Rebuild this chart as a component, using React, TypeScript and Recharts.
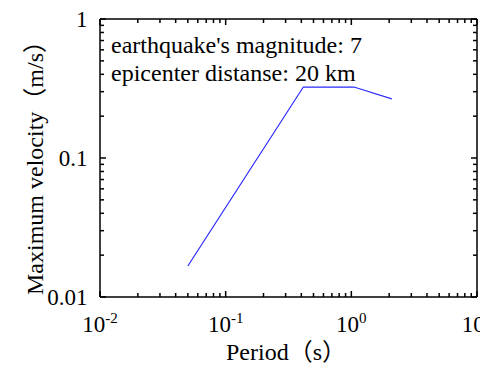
import React from 'react';
import { LineChart, Line, XAxis, YAxis } from 'recharts';

// ---- data ----
const periods = [0.05, 0.415, 1.05, 2.1];
const velocities = [0.0167, 0.324, 0.324, 0.266];

const xTicks = [
  0.01, 0.02, 0.03, 0.04, 0.05, 0.06, 0.07, 0.08, 0.09,
  0.1, 0.2, 0.3, 0.4, 0.5, 0.6, 0.7, 0.8, 0.9,
  1, 2, 3, 4, 5, 6, 7, 8, 9, 10,
];
const xMajor = [0.01, 0.1, 1, 10];
const xMajorExp = ['-2', '-1', '0', '1'];

const yTicks = [
  0.01, 0.02, 0.03, 0.04, 0.05, 0.06, 0.07, 0.08, 0.09,
  0.1, 0.2, 0.3, 0.4, 0.5, 0.6, 0.7, 0.8, 0.9, 1,
];
const yMajor = [0.01, 0.1, 1];
const yMajorLabels = ['0.01', '0.1', '1'];

const annotations = ["earthquake's magnitude: 7", 'epicenter distanse: 20 km'];
const xTitle = 'Period（s）';
const yTitle = 'Maximum velocity（m/s）';

const data = periods.map((p, i) => ({ p, v: velocities[i] }));

const FONT_STYLE: React.CSSProperties = { fontFamily: "'Liberation Serif', 'Noto Sans CJK SC', serif" };
const MAJ = 6;
const MIN = 4;

const XTickBottom = (props: any) => {
  const { x, y, payload } = props;
  const len = xMajor.indexOf(payload.value) >= 0 ? MAJ : MIN;
  return <line x1={x} x2={x} y1={y} y2={y - len} stroke="#000" strokeWidth={1.5} />;
};

const XLabel = (props: any) => {
  const { x, y, payload } = props;
  const mi = xMajor.indexOf(payload.value);
  return (
    <text x={x} y={y + 34} textAnchor="middle" fontFamily="Liberation Serif" fontSize={23} fill="#000">
      <tspan>10</tspan>
      <tspan dy={-9} fontSize={15}>{xMajorExp[mi]}</tspan>
    </text>
  );
};

const XTickTop = (props: any) => {
  const { x, y, payload } = props;
  const len = xMajor.indexOf(payload.value) >= 0 ? MAJ : MIN;
  return <line x1={x} x2={x} y1={y} y2={y + len} stroke="#000" strokeWidth={1.5} />;
};

const YTickLeft = (props: any) => {
  const { x, y, payload } = props;
  const len = yMajor.indexOf(payload.value) >= 0 ? MAJ : MIN;
  return <line x1={x} x2={x + len} y1={y} y2={y} stroke="#000" strokeWidth={1.5} />;
};

const YLabel = (props: any) => {
  const { x, y, payload } = props;
  const mi = yMajor.indexOf(payload.value);
  return (
    <text x={x - 12} y={y + 8} textAnchor="end" fontFamily="Liberation Serif" fontSize={23} fill="#000">
      {yMajorLabels[mi]}
    </text>
  );
};

const YTickRight = (props: any) => {
  const { x, y, payload } = props;
  const len = yMajor.indexOf(payload.value) >= 0 ? MAJ : MIN;
  return <line x1={x} x2={x - len} y1={y} y2={y} stroke="#000" strokeWidth={1.5} />;
};

const common = { type: 'number' as const, scale: 'log' as const, allowDataOverflow: true, tickSize: 0, tickMargin: 0, tickLine: false };

export default function App() {
  return (
    <div style={{ position: 'relative', width: 480, height: 355, background: '#fff' }}>
      <LineChart width={480} height={355} data={data} margin={{ top: 10, right: 10, bottom: 65, left: 91 }}>
        <XAxis {...common} xAxisId="b" dataKey="p" domain={[0.01, 10]} ticks={xTicks} interval={0} orientation="bottom" height={0.5} axisLine={{ stroke: '#000', strokeWidth: 1.5 }} tick={<XTickBottom />} />
        <XAxis {...common} xAxisId="bl" dataKey="p" domain={[0.01, 10]} ticks={xMajor} interval={0} orientation="bottom" height={0.5} axisLine={false} tick={<XLabel />} />
        <XAxis {...common} xAxisId="t" dataKey="p" domain={[0.01, 10]} ticks={xTicks} interval={0} orientation="top" height={1} axisLine={{ stroke: '#000', strokeWidth: 1.5 }} tick={<XTickTop />} />
        <YAxis {...common} yAxisId="l" dataKey="v" domain={[0.01, 1]} ticks={yTicks} interval={0} orientation="left" width={0.5} axisLine={{ stroke: '#000', strokeWidth: 1.5 }} tick={<YTickLeft />} />
        <YAxis {...common} yAxisId="ll" dataKey="v" domain={[0.01, 1]} ticks={yMajor} interval={0} orientation="left" width={0.5} axisLine={false} tick={<YLabel />} />
        <YAxis {...common} yAxisId="r" dataKey="v" domain={[0.01, 1]} ticks={yTicks} interval={0} orientation="right" width={1} axisLine={{ stroke: '#000', strokeWidth: 1.5 }} tick={<YTickRight />} />
        <Line xAxisId="b" yAxisId="l" dataKey="v" stroke="#2a2aff" strokeWidth={1.2} dot={false} isAnimationActive={false} />
      </LineChart>
      <svg width={480} height={355} style={{ position: 'absolute', left: 0, top: 0, pointerEvents: 'none' }}>
        <text x={103} y={45} fontFamily="Liberation Serif" fontSize={24} fill="#000">{annotations[0]}</text>
        <text x={103} y={73} fontFamily="Liberation Serif" fontSize={24} fill="#000">{annotations[1]}</text>
        <text x={278} y={352} textAnchor="middle" style={FONT_STYLE} fontSize={24} fill="#000">{xTitle}</text>
        <text x={35} y={154} transform="rotate(-90 35 154)" textAnchor="middle" style={FONT_STYLE} fontSize={24} fill="#000">{yTitle}</text>
      </svg>
    </div>
  );
}
